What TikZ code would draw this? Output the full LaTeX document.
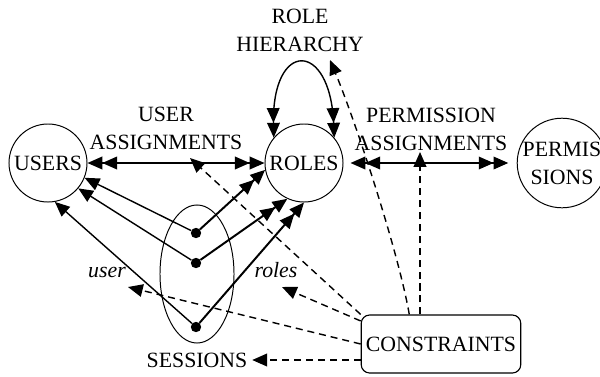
\documentclass[tikz,border=0pt]{standalone}
\usepackage{fontspec}
\setmainfont{Liberation Serif}
\usetikzlibrary{arrows.meta, shapes.geometric}

\begin{document}
\begin{tikzpicture}[
    x=0.025cm, y=-0.025cm,
    font=\fontsize{15.5}{20}\selectfont,
    >={Triangle[length=10.5pt, width=9pt]},
    entity/.style={
      circle, draw, line width=0.7pt, minimum size=1.95cm,
      inner sep=0pt, align=center
    },
    dot/.style={circle, fill, inner sep=0pt, minimum size=0.26cm},
    assign/.style={<<->>, line width=1pt},
    member/.style={->>, line width=1.4pt},
    userlink/.style={->, line width=1pt},
    constr/.style={->, line width=1pt, dash pattern=on 5pt off 3.5pt},
  ]
    \useasboundingbox (0,0) rectangle (600,376);

    \node[entity] (users) at (48,163) {USERS};
    \node[entity] (roles) at (304,163) {ROLES};
    \node[entity] (perms) at (562,163) {PERMIS\\SIONS};
    \node[ellipse, draw, line width=0.7pt, minimum width=1.85cm,
      minimum height=3.45cm] (sessions) at (197,274) {};
    \node[dot] (s1) at (196,233) {};
    \node[dot] (s2) at (196,263) {};
    \node[dot] (s3) at (196,327) {};
    \node (seslabel) at (197,360) {SESSIONS};
    \node[draw, rounded corners=6pt, line width=0.8pt, minimum width=3.95cm,
      minimum height=1.45cm] (constraints) at (441,344) {CONSTRAINTS};

    % Labels
    \node[align=center] (ualabel) at (166,128) {USER\\ASSIGNMENTS};
    \node[align=center] (rhlabel) at (300,30) {ROLE\\HIERARCHY};
    \node[align=center] (palabel) at (431,129) {PERMISSION\\ASSIGNMENTS};
    \node[font=\fontsize{15.5}{20}\selectfont\itshape] (userlabel) at (107,272) {user};
    \node[font=\fontsize{15.5}{20}\selectfont\itshape] (roleslabel) at (276,270) {roles};

    % Assignments and hierarchy
    \draw[assign] (users) -- (roles);
    \draw[assign, shorten <=5pt, shorten >=6pt] (roles) -- (perms);
    \draw[assign] (roles.140) .. controls (272,40) and (330,40) .. (roles.40);

    % Sessions
    \draw[userlink] (s1) -- (users.-22);
    \draw[userlink] (s2) -- (users.-40);
    \draw[userlink] (s3) -- (users.-80);
    \draw[member] (s1) -- (roles.190);
    \draw[member] (s2) -- (roles.-115);
    \draw[member] (s3) -- (roles.-90);

    % Constraints
    \coordinate (uatip) at (190,158);
    \coordinate (patip) at (420,152);
    \coordinate (rhtip) at (330,60);
    \coordinate (usertip) at (128,287);
    \coordinate (rolestip) at (282,287);
    \draw[constr] (constraints.north west) -- (uatip);
    \draw[constr] (patip |- constraints.north) -- (patip);
    \draw[constr] (constraints.137) .. controls (398,250) and (355,120) .. (rhtip);
    \draw[constr] (constraints.164) -- (rolestip);
    \draw[constr] (constraints.west) -- (usertip);
    \draw[constr] (seslabel.east -| constraints.west) -- (seslabel.east);
  \end{tikzpicture}
\end{document}
